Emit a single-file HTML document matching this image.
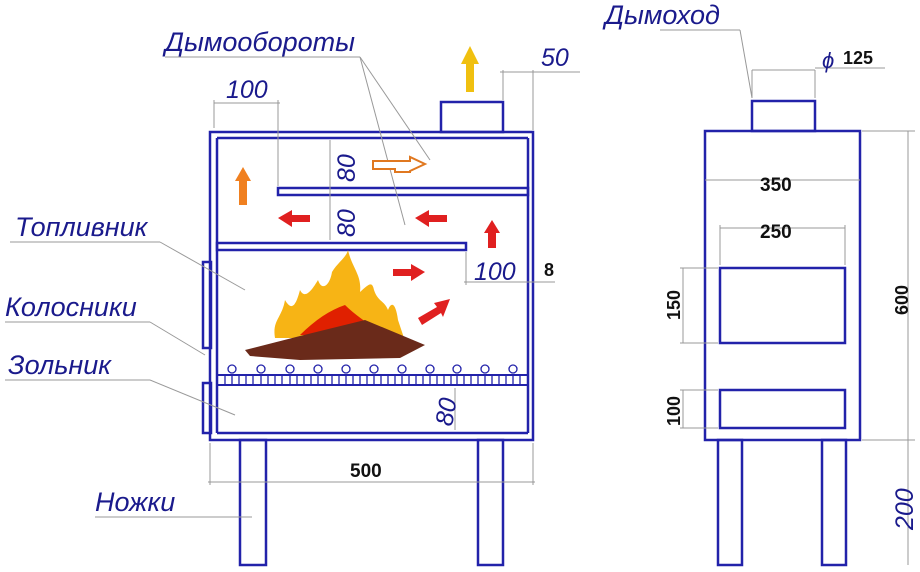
<!DOCTYPE html>
<html><head><meta charset="utf-8"><style>
html,body{margin:0;padding:0;background:#fff;}
svg{display:block;}
.l{font-family:"Liberation Sans","DejaVu Sans",sans-serif;font-style:italic;fill:#1a1a8c;}
.b{font-family:"Liberation Sans","DejaVu Sans",sans-serif;font-weight:bold;fill:#111;}
</style></head><body>
<svg width="920" height="572" viewBox="0 0 920 572" xmlns="http://www.w3.org/2000/svg">
<g fill="none" stroke="#2222aa" stroke-width="2.5">
<rect x="210" y="132" width="323" height="308"/>
<line x1="217" y1="138" x2="528" y2="138"/>
<line x1="217" y1="138" x2="217" y2="433"/>
<line x1="528" y1="138" x2="528" y2="433"/>
<line x1="217" y1="433" x2="528" y2="433"/>
<rect x="441" y="102" width="62" height="30"/>
<rect x="278" y="188" width="250" height="7"/>
<rect x="217" y="243" width="249" height="7"/>
<rect x="203" y="262" width="8" height="86"/>
<rect x="203" y="383" width="8" height="50"/>
<rect x="217" y="375" width="311" height="10" stroke-width="2"/>
<rect x="240" y="440" width="26" height="125"/>
<rect x="478" y="440" width="25" height="125"/>
<rect x="705" y="131" width="155" height="309"/>
<rect x="752" y="101" width="63" height="30"/>
<rect x="720" y="268" width="125" height="75"/>
<rect x="720" y="390" width="125" height="38"/>
<rect x="718" y="440" width="24" height="125"/>
<rect x="822" y="440" width="24" height="125"/>
</g>
<g stroke="#2222aa" stroke-width="1.3" fill="#fff">
<path d="M225 375v10M232 375v10M239 375v10M246 375v10M253 375v10M261 375v10M268 375v10M275 375v10M282 375v10M290 375v10M297 375v10M304 375v10M311 375v10M318 375v10M325 375v10M332 375v10M339 375v10M346 375v10M353 375v10M360 375v10M367 375v10M374 375v10M381 375v10M388 375v10M395 375v10M402 375v10M409 375v10M416 375v10M423 375v10M430 375v10M437 375v10M444 375v10M451 375v10M457 375v10M464 375v10M471 375v10M478 375v10M485 375v10M492 375v10M499 375v10M506 375v10M513 375v10M520 375v10"/>
<circle cx="232" cy="369" r="4"/><circle cx="261" cy="369" r="4"/><circle cx="290" cy="369" r="4"/><circle cx="318" cy="369" r="4"/><circle cx="346" cy="369" r="4"/><circle cx="374" cy="369" r="4"/><circle cx="402" cy="369" r="4"/><circle cx="430" cy="369" r="4"/><circle cx="457" cy="369" r="4"/><circle cx="485" cy="369" r="4"/><circle cx="513" cy="369" r="4"/>
</g>
<g stroke="#999" stroke-width="1" fill="none">
<line x1="214" y1="128" x2="214" y2="100"/><line x1="278" y1="186" x2="278" y2="100"/><line x1="214" y1="103" x2="280" y2="103"/>
<line x1="503" y1="100" x2="503" y2="70"/><line x1="533" y1="130" x2="533" y2="70"/><line x1="500" y1="72" x2="580" y2="72"/>
<line x1="210" y1="443" x2="210" y2="485"/><line x1="533" y1="443" x2="533" y2="485"/><line x1="208" y1="482" x2="535" y2="482"/>
<line x1="466" y1="252" x2="466" y2="285"/><line x1="464" y1="282" x2="555" y2="282"/>
<line x1="330" y1="140" x2="330" y2="240"/><line x1="455" y1="388" x2="455" y2="430"/>
<line x1="165" y1="57" x2="360" y2="57"/><line x1="360" y1="57" x2="430" y2="160"/><line x1="360" y1="57" x2="405" y2="225"/>
<line x1="10" y1="242" x2="160" y2="242"/><line x1="160" y1="242" x2="245" y2="290"/>
<line x1="5" y1="322" x2="150" y2="322"/><line x1="150" y1="322" x2="205" y2="355"/>
<line x1="5" y1="380" x2="150" y2="380"/><line x1="150" y1="380" x2="235" y2="415"/>
<line x1="95" y1="517" x2="252" y2="517"/>
<line x1="660" y1="30" x2="740" y2="30"/><line x1="740" y1="30" x2="752" y2="98"/>
<line x1="752" y1="70" x2="815" y2="70"/><line x1="752" y1="70" x2="752" y2="98"/><line x1="815" y1="70" x2="815" y2="98"/><line x1="815" y1="68" x2="885" y2="68"/>
<line x1="705" y1="180" x2="860" y2="180"/>
<line x1="720" y1="228" x2="845" y2="228"/><line x1="720" y1="225" x2="720" y2="265"/><line x1="845" y1="225" x2="845" y2="265"/>
<line x1="862" y1="131" x2="915" y2="131"/><line x1="862" y1="440" x2="915" y2="440"/><line x1="908" y1="131" x2="908" y2="565"/>
<line x1="680" y1="268" x2="718" y2="268"/><line x1="680" y1="343" x2="718" y2="343"/><line x1="683" y1="268" x2="683" y2="343"/>
<line x1="680" y1="390" x2="718" y2="390"/><line x1="680" y1="428" x2="718" y2="428"/><line x1="683" y1="390" x2="683" y2="428"/>
</g>
<g fill="#e02020">
<polygon points="278,218 292,210 292,215 310,215 310,222 292,222 292,227"/>
<polygon points="415,218 429,210 429,215 447,215 447,222 429,222 429,227"/>
<polygon points="492,220 484,233 488,233 488,248 496,248 496,233 500,233"/>
<polygon points="425,272 411,264 411,269 393,269 393,276 411,276 411,281"/>
<polygon points="450,299 434,303 437,307 418,318 422,325 441,313 443,317"/>
</g>
<polygon points="243,167 235,181 239,181 239,205 247,205 247,181 251,181" fill="#f08020"/>
<polygon points="425,164 410,157 410,161 373,161 373,169 395,169 395,172 410,172 410,171" fill="#fff" stroke="#e07820" stroke-width="2"/>
<polygon points="470,46 461,64 466,64 466,92 474,92 474,64 479,64" fill="#f0c010"/>
<path d="M275 338 C272 320 282 318 285 300 C292 312 296 305 300 290 C305 300 312 290 318 280 C322 292 330 285 332 272 C338 262 346 258 348 250 C352 268 362 275 360 292 C368 285 372 280 374 290 C378 302 384 300 388 310 C392 300 396 305 398 320 L404 338 Z" fill="#f7b415"/>
<path d="M300 335 C315 320 330 310 345 305 C355 315 370 325 385 335 Z" fill="#e02000"/>
<path d="M245 350 L300 336 L365 320 L425 345 L400 358 L300 360 L250 356 Z" fill="#6a2a1a"/>
<text class="l" x="165" y="51" font-size="27">Дымообороты</text>
<text class="l" x="15" y="236" font-size="27">Топливник</text>
<text class="l" x="5" y="316" font-size="27">Колосники</text>
<text class="l" x="8" y="374" font-size="27">Зольник</text>
<text class="l" x="95" y="511" font-size="27">Ножки</text>
<text class="l" x="605" y="24" font-size="27">Дымоход</text>
<text class="l" x="226" y="98" font-size="25">100</text>
<text class="l" x="541" y="66" font-size="25">50</text>
<text class="l" x="474" y="280" font-size="25">100</text>
<text class="l" x="822" y="68" font-size="22">ϕ</text>
<text class="l" font-size="25" transform="translate(355,182) rotate(-90)">80</text>
<text class="l" font-size="25" transform="translate(355,237) rotate(-90)">80</text>
<text class="l" font-size="25" transform="translate(452,427) rotate(-80)">80</text>
<text class="l" font-size="25" transform="translate(913,530) rotate(-90)">200</text>
<text class="b" x="843" y="64" font-size="18">125</text>
<text class="b" x="544" y="276" font-size="18">8</text>
<text class="b" x="350" y="477" font-size="19">500</text>
<text class="b" x="760" y="191" font-size="19">350</text>
<text class="b" x="760" y="238" font-size="19">250</text>
<text class="b" font-size="18" transform="translate(680,320) rotate(-90)">150</text>
<text class="b" font-size="18" transform="translate(680,426) rotate(-90)">100</text>
<text class="b" font-size="18" transform="translate(908,315) rotate(-90)">600</text>
</svg>
</body></html>
